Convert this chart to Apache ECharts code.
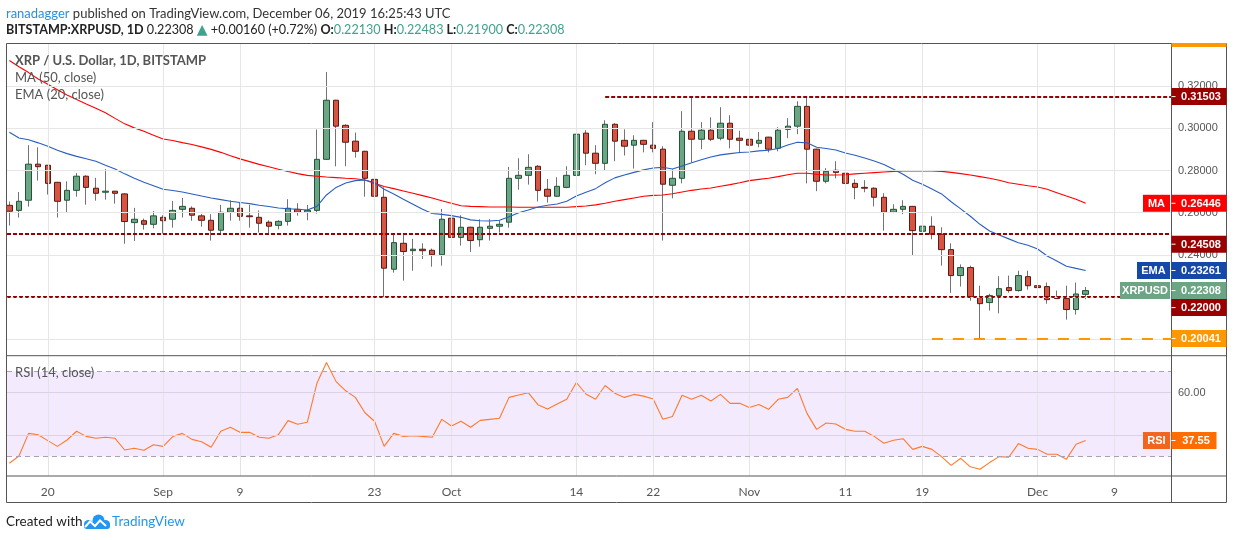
<!DOCTYPE html>
<html><head><meta charset="utf-8">
<script src="https://cdn.jsdelivr.net/npm/echarts@6/dist/echarts.min.js"></script>
<style>html,body{margin:0;padding:0;background:#fff;}#c{width:1234px;height:540px;}</style>
</head><body><div id="c"></div>
<script>
// Daily XRP/USD candles from Aug 16 2019 (index 0) to Dec 6 2019 (index 112)
const opens = [0.2635,0.2611,0.2659,0.2830,0.2825,0.2744,0.2659,0.2706,0.2773,0.2716,
0.2697,0.2702,0.2689,0.2553,0.2562,0.2545,0.2578,0.2569,0.2616,0.2621,
0.2585,0.2564,0.2517,0.2602,0.2621,0.2585,0.2578,0.2555,0.2540,0.2559,
0.2616,0.2602,0.2611,0.2853,0.3133,0.3014,0.2939,0.2891,0.2758,0.2673,
0.2332,0.2455,0.2420,0.2427,0.2422,0.2401,0.2574,0.2483,0.2531,0.2472,
0.2526,0.2536,0.2555,0.2763,0.2777,0.2820,0.2711,0.2678,0.2720,0.2777,
0.2977,0.2882,0.2834,0.3019,0.2943,0.2920,0.2943,0.2920,0.2901,0.2730,
0.2763,0.2986,0.2948,0.2991,0.2953,0.3024,0.2953,0.2948,0.2929,0.2958,
0.2905,0.2995,0.3010,0.3104,0.2901,0.2749,0.2801,0.2787,0.2739,0.2720,
0.2716,0.2673,0.2602,0.2616,0.2630,0.2512,0.2536,0.2498,0.2425,0.2302,
0.2340,0.2198,0.2174,0.2207,0.2245,0.2231,0.2297,0.2254,0.2250,0.2198,
0.2193,0.2141,0.2213];
const highs = [0.2653,0.2698,0.2920,0.2910,0.2826,0.2746,0.2749,0.2788,0.2777,0.2765,
0.2807,0.2703,0.2692,0.2623,0.2572,0.2608,0.2588,0.2656,0.2670,0.2630,
0.2594,0.2593,0.2637,0.2659,0.2648,0.2637,0.2610,0.2564,0.2564,0.2664,
0.2645,0.2637,0.2994,0.3267,0.3135,0.3019,0.2980,0.2893,0.2866,0.2720,
0.2501,0.2501,0.2476,0.2455,0.2430,0.2618,0.2611,0.2588,0.2534,0.2569,
0.2569,0.2564,0.2817,0.2858,0.2877,0.2825,0.2760,0.2768,0.2820,0.2984,
0.2991,0.2920,0.3038,0.3024,0.2995,0.2967,0.2945,0.3029,0.2915,0.2806,
0.3081,0.3149,0.3029,0.3052,0.3100,0.3062,0.2988,0.2967,0.2983,0.2960,
0.3005,0.3048,0.3128,0.3150,0.2903,0.2811,0.2844,0.2806,0.2758,0.2754,
0.2720,0.2692,0.2640,0.2659,0.2632,0.2559,0.2583,0.2531,0.2455,0.2355,
0.2349,0.2254,0.2216,0.2299,0.2302,0.2325,0.2325,0.2264,0.2269,0.2231,
0.2254,0.2269,0.22483];
const lows = [0.2539,0.2577,0.2629,0.2752,0.2686,0.2577,0.2600,0.2676,0.2638,0.2657,
0.2662,0.2643,0.2453,0.2466,0.2520,0.2526,0.2501,0.2529,0.2577,0.2562,
0.2534,0.2468,0.2502,0.2562,0.2562,0.2529,0.2506,0.2501,0.2521,0.2539,
0.2586,0.2564,0.2596,0.2850,0.2820,0.2820,0.2861,0.2676,0.2659,0.2199,
0.2316,0.2278,0.2325,0.2381,0.2344,0.2349,0.2446,0.2444,0.2414,0.2439,
0.2468,0.2506,0.2529,0.2709,0.2733,0.2653,0.2648,0.2676,0.2716,0.2768,
0.2825,0.2782,0.2799,0.2844,0.2871,0.2809,0.2886,0.2886,0.2468,0.2668,
0.2739,0.2839,0.2901,0.2939,0.2943,0.2905,0.2882,0.2848,0.2910,0.2886,
0.2891,0.2953,0.2972,0.2739,0.2702,0.2739,0.2763,0.2687,0.2664,0.2697,
0.2630,0.2515,0.2598,0.2593,0.2397,0.2420,0.2474,0.2349,0.2220,0.2250,
0.2183,0.20041,0.2136,0.2123,0.2221,0.2226,0.2235,0.2183,0.2169,0.2191,
0.2093,0.2117,0.2190];
const closes = [0.2607,0.2654,0.2830,0.2818,0.2739,0.2654,0.2706,0.2773,0.2720,0.2692,
0.2702,0.2692,0.2558,0.2569,0.2545,0.2585,0.2562,0.2611,0.2630,0.2588,
0.2564,0.2517,0.2602,0.2621,0.2583,0.2581,0.2550,0.2536,0.2559,0.2621,
0.2602,0.2611,0.2853,0.3133,0.3010,0.2934,0.2891,0.2763,0.2678,0.2337,
0.2458,0.2416,0.2427,0.2420,0.2401,0.2569,0.2483,0.2531,0.2468,0.2531,
0.2536,0.2545,0.2763,0.2777,0.2815,0.2706,0.2678,0.2725,0.2777,0.2972,
0.2882,0.2834,0.3019,0.2939,0.2915,0.2943,0.2924,0.2905,0.2735,0.2763,
0.2986,0.2948,0.2991,0.2948,0.3024,0.2948,0.2943,0.2920,0.2943,0.2901,
0.2991,0.3010,0.3104,0.2901,0.2749,0.2796,0.2791,0.2739,0.2720,0.2716,
0.2673,0.2602,0.2616,0.2630,0.2515,0.2536,0.2498,0.2425,0.2302,0.2340,
0.2202,0.2169,0.2207,0.2240,0.2231,0.2302,0.2254,0.2245,0.2188,0.2193,
0.2141,0.22148,0.22308];
const ma50 = [0.3321,0.3292,0.3264,0.3234,0.3209,0.3183,0.3158,0.3136,0.3115,0.3095,
0.3074,0.3047,0.3021,0.3002,0.2986,0.2967,0.2949,0.2942,0.2932,0.2923,
0.2912,0.2900,0.2886,0.2870,0.2855,0.2842,0.2829,0.2818,0.2806,0.2795,
0.2785,0.2777,0.2773,0.2769,0.2766,0.2763,0.2761,0.2755,0.2739,0.2724,
0.2714,0.2703,0.2692,0.2681,0.2670,0.2657,0.2645,0.2633,0.2630,0.2629,
0.2627,0.2627,0.2627,0.2626,0.2626,0.2626,0.2626,0.2626,0.2626,0.2629,
0.2632,0.2637,0.2645,0.2654,0.2662,0.2670,0.2678,0.2682,0.2684,0.2690,
0.2698,0.2706,0.2712,0.2717,0.2725,0.2733,0.2742,0.2752,0.2758,0.2763,
0.2771,0.2780,0.2787,0.2787,0.2782,0.2779,0.2779,0.2780,0.2784,0.2787,
0.2790,0.2793,0.2796,0.2798,0.2798,0.2798,0.2798,0.2796,0.2791,0.2785,
0.2779,0.2771,0.2763,0.2754,0.2742,0.2735,0.2728,0.2722,0.2711,0.2695,
0.2679,0.2664,0.26446];
const ema20 = [0.2981,0.2954,0.2946,0.2931,0.2915,0.2896,0.2880,0.2867,0.2856,0.2844,
0.2825,0.2807,0.2784,0.2763,0.2744,0.2728,0.2711,0.2705,0.2698,0.2689,
0.2679,0.2670,0.2662,0.2654,0.2648,0.2643,0.2635,0.2629,0.2622,0.2619,
0.2616,0.2613,0.2630,0.2684,0.2720,0.2741,0.2752,0.2755,0.2742,0.2711,
0.2689,0.2664,0.2640,0.2616,0.2596,0.2592,0.2586,0.2578,0.2566,0.2562,
0.2561,0.2564,0.2581,0.2600,0.2613,0.2627,0.2635,0.2641,0.2654,0.2679,
0.2697,0.2714,0.2742,0.2765,0.2779,0.2791,0.2803,0.2812,0.2815,0.2807,
0.2821,0.2837,0.2851,0.2864,0.2874,0.2880,0.2885,0.2888,0.2893,0.2896,
0.2904,0.2921,0.2934,0.2931,0.2910,0.2904,0.2897,0.2883,0.2872,0.2859,
0.2845,0.2828,0.2806,0.2782,0.2754,0.2735,0.2712,0.2689,0.2652,0.2618,
0.2583,0.2545,0.2513,0.2494,0.2476,0.2458,0.2446,0.2428,0.2395,0.2371,
0.2346,0.2336,0.23261];
const rsi14 = [26.9,30.3,40.9,40.3,37.5,34.8,37.8,41.9,39.5,38.6,
39.1,38.6,33.1,33.9,33.0,35.6,34.8,39.4,40.9,38.1,
37.0,34.4,41.9,43.8,41.4,41.4,39.1,38.6,40.3,46.9,
45.2,46.1,64.4,74.2,65.2,60.9,57.8,50.6,46.6,34.8,
40.9,39.5,39.8,39.5,39.1,47.5,44.4,46.6,43.8,47.0,
47.5,48.0,57.8,58.9,60.0,54.4,52.3,54.7,56.9,64.8,
59.4,56.9,63.4,59.7,57.8,59.2,58.4,57.0,47.5,48.8,
58.8,56.9,58.8,56.1,59.2,55.0,55.0,53.1,54.5,52.2,
56.9,57.8,62.0,50.3,42.8,45.8,45.3,42.8,41.9,41.9,
39.5,36.3,37.7,38.4,33.4,34.8,33.4,30.0,25.9,29.2,
25.2,24.1,27.2,30.0,29.7,36.1,33.9,33.4,31.1,31.1,
28.8,35.8,37.55];
// time-axis ticks (day index from Aug 16) and their labels
const tickDays = [4,16,24,38,46,59,67,77,87,95,107,115];
const tickLabels = ['20','Sep','9','23','Oct','14','22','Nov','11','19','Dec','9'];
const priceTicks = [0.20,0.22,0.24,0.26,0.28,0.30,0.32];
const rsiTicks = [60];
// drawn horizontal levels
const resistanceLevel = 0.31503, resistanceStart = 62;
const upperLevel = 0.24508;
const supportLevel = 0.22000;
const swingLow = 0.20041, swingLowStart = 96;

const chart = echarts.init(document.getElementById('c'));
const last = opens.length - 1;
const idx = opens.map((_, i) => i);
const xMin = -0.2456, xMax = 120.88;
const FONT = 'Lato, "Liberation Sans", sans-serif';
const NUM = '"Liberation Sans", Arial, sans-serif';
const DARKRED = '#990000';

const vMarks = (color) => ({symbol:'none', silent:true, animation:false, label:{show:false},
  lineStyle:{color:color, width:1, type:'solid'}, data: tickDays.map(d => ({xAxis:d}))});

chart.setOption({
  animation:false,
  grid:[{left:7, top:43.3, width:1164, height:312.4},{left:7, top:355.7, width:1164, height:120.3}],
  xAxis:[
    {type:'value', gridIndex:0, min:xMin, max:xMax, axisLine:{show:false}, axisTick:{show:false}, axisLabel:{show:false}, splitLine:{show:false}},
    {type:'value', gridIndex:1, min:xMin, max:xMax, axisLine:{show:false}, axisTick:{show:false}, splitLine:{show:false},
     axisLabel:{customValues:tickDays, color:'#555', fontSize:12, fontFamily:FONT, margin:10,
       formatter:(v)=>{const k=tickDays.indexOf(Math.round(v)); return k>=0?tickLabels[k]:'';}}}
  ],
  yAxis:[
    {type:'value', gridIndex:0, position:'right', min:0.19223, max:0.34028, axisLine:{show:false}, splitLine:{show:false},
     axisTick:{show:true, customValues:priceTicks, length:4, lineStyle:{color:'#555'}},
     axisLabel:{customValues:priceTicks, color:'#555', fontSize:11, fontFamily:NUM, margin:7, formatter:(v)=>v.toFixed(5)}},
    {type:'value', gridIndex:1, position:'right', min:20.9, max:77.37, axisLine:{show:false}, splitLine:{show:false},
     axisTick:{show:true, customValues:rsiTicks, length:4, lineStyle:{color:'#555'}},
     axisLabel:{customValues:rsiTicks, color:'#555', fontSize:11, fontFamily:NUM, margin:7, formatter:(v)=>v.toFixed(2)}}
  ],
  series:[
    {name:'pgrid', type:'line', xAxisIndex:0, yAxisIndex:0, data:[], z:0, silent:true,
     markLine:{symbol:'none', silent:true, animation:false, label:{show:false},
       lineStyle:{color:'#e6e6e6', width:1, type:'solid'},
       data:[...tickDays.map(d=>({xAxis:d})), ...priceTicks.map(v=>({yAxis:v}))]}},
    {name:'wicks', type:'candlestick', xAxisIndex:0, yAxisIndex:0, z:2, barWidth:1, encode:{x:0, y:[1,2,3,4]},
     data: idx.map(i=>[i, opens[i], closes[i], lows[i], highs[i]]),
     itemStyle:{color:'#737375', color0:'#737375', borderColor:'#737375', borderColor0:'#737375', borderWidth:1}},
    {name:'bodies', type:'candlestick', xAxisIndex:0, yAxisIndex:0, z:3, barWidth:6, encode:{x:0, y:[1,2,3,4]},
     data: idx.map(i=>[i, opens[i], closes[i], Math.min(opens[i],closes[i]), Math.max(opens[i],closes[i])]),
     itemStyle:{color:'#6ba583', color0:'#d75442', borderColor:'#225437', borderColor0:'#5b1a13', borderWidth:1}},
    {name:'MA', type:'line', xAxisIndex:0, yAxisIndex:0, z:4, symbol:'none', showSymbol:false,
     data: idx.map(i=>[i, ma50[i]]), lineStyle:{color:'#ff0000', width:1.1}},
    {name:'EMA', type:'line', xAxisIndex:0, yAxisIndex:0, z:4, symbol:'none', showSymbol:false,
     data: idx.map(i=>[i, ema20[i]]), lineStyle:{color:'#2a5fc0', width:1.1}},
    {name:'levels', type:'line', xAxisIndex:0, yAxisIndex:0, data:[], z:5, silent:true,
     markLine:{symbol:'none', silent:true, animation:false, label:{show:false}, data:[
       [{coord:[resistanceStart, resistanceLevel], lineStyle:{color:DARKRED, width:2, type:[4,2]}}, {coord:[xMax, resistanceLevel]}],
       {yAxis:upperLevel, lineStyle:{color:DARKRED, width:2, type:[4,2]}},
       {yAxis:supportLevel, lineStyle:{color:DARKRED, width:2, type:[4,2]}},
       [{coord:[swingLowStart, swingLow], lineStyle:{color:'#ff9800', width:2, type:[11,10]}}, {coord:[xMax, swingLow]}],
       {yAxis:closes[last], lineStyle:{color:'#5f9c7b', width:1, type:[1,2]}}
     ]}},
    {name:'rgrid', type:'line', xAxisIndex:1, yAxisIndex:1, data:[], z:0, silent:true, markLine:vMarks('#e4e4e4')},
    {name:'rband', type:'line', xAxisIndex:1, yAxisIndex:1, data:[], z:1, silent:true,
     markArea:{silent:true, itemStyle:{color:'rgba(160,80,240,0.12)'}, data:[[{yAxis:30},{yAxis:70}]]}},
    {name:'rlevels', type:'line', xAxisIndex:1, yAxisIndex:1, data:[], z:2, silent:true,
     markLine:{symbol:'none', silent:true, animation:false, label:{show:false}, data:[
       {yAxis:60, lineStyle:{color:'#dcd1e8', width:1, type:'solid'}},
       {yAxis:40, lineStyle:{color:'#dcd1e8', width:1, type:'solid'}},
       {yAxis:70, lineStyle:{color:'#aaa2b4', width:1, type:[5,4]}},
       {yAxis:30, lineStyle:{color:'#aaa2b4', width:1, type:[5,4]}}
     ]}},
    {name:'RSI', type:'line', xAxisIndex:1, yAxisIndex:1, z:3, symbol:'none', showSymbol:false,
     data: idx.map(i=>[i, rsi14[i]]), lineStyle:{color:'#ff7a2e', width:1.1}}
  ]
});

// ---------- overlay: frame, texts and price labels ----------
const py = v => chart.convertToPixel({yAxisIndex:0}, v);
const ry = v => chart.convertToPixel({yAxisIndex:1}, v);
const G = [];
function add(o){ o.id = 'g'+G.length; o.silent = true; if(o.z==null) o.z = 100; G.push(o); }
function rect(x,y,w,h,fill,z,r){ add({type:'rect', shape:{x:x,y:y,width:w,height:h,r:r||0}, style:{fill:fill}, z:z}); }
function line(x1,y1,x2,y2,stroke,w){ add({type:'line', shape:{x1:x1,y1:y1,x2:x2,y2:y2}, style:{stroke:stroke, lineWidth:w||1}}); }
function text(x,y,t,opt){ add({type:'text', x:x, y:y, style:Object.assign({text:t, fill:'#555', font:'13px '+FONT, align:'left', verticalAlign:'middle'}, opt||{})}); }
function box(x,yc,w,bg,t,withTick){
  rect(x, yc-8.5, w, 17, bg, 110);
  add({type:'text', x:x+w/2+(withTick?2:0), y:yc+0.5, z:111, style:{text:t, fill:'#fff', font:'bold 11px '+NUM, align:'center', verticalAlign:'middle'}});
  if(withTick) add({type:'line', z:111, shape:{x1:x, y1:yc, x2:x+4, y2:yc}, style:{stroke:'#fff', lineWidth:1}});
}

// cover to the left of the frame
rect(0, 43, 6.5, 460, '#fff', 90);
// frame
add({type:'rect', shape:{x:6.5, y:43.5, width:1220, height:459}, style:{fill:'none', stroke:'#555', lineWidth:1}});
line(1171.5, 43.5, 1171.5, 502.5, '#555');
line(6.5, 355.7, 1226.5, 355.7, '#555');
line(6.5, 476, 1226.5, 476, '#555');
rect(1171.5, 43, 55, 4, '#ff9800', 101);

// header
const chg = closes[last]-closes[last-1];
const pct = chg/closes[last-1]*100;
const up = '#3fa28e';
add({type:'text', x:6, y:13.5, style:{text:'{a|ranadagger}{b| published on TradingView.com, December 06, 2019 16:25:43 UTC}',
  verticalAlign:'middle', rich:{a:{fill:'#2a8fe0', fontSize:13, fontFamily:FONT}, b:{fill:'#333', fontSize:13, fontFamily:FONT}}}});
add({type:'text', x:6, y:30, style:{
  text:'{b|BITSTAMP:XRPUSD, 1D}{n| '+closes[last].toFixed(5)+' }{t|▲}{n| '+(chg>=0?'+':'')+chg.toFixed(5)+' ('+(chg>=0?'+':'')+pct.toFixed(2)+'%) }'+
       '{b|O:}{u|'+opens[last].toFixed(5)+'}{b| H:}{u|'+highs[last].toFixed(5)+'}{b| L:}{u|'+lows[last].toFixed(5)+'}{b| C:}{u|'+closes[last].toFixed(5)+'}',
  verticalAlign:'middle',
  rich:{b:{fill:'#222', fontSize:12.6, fontWeight:'bold', fontFamily:FONT}, n:{fill:'#222', fontSize:12.6, fontFamily:FONT},
        u:{fill:up, fontSize:12.6, fontFamily:FONT}, t:{fill:up, fontSize:14, fontFamily:'"DejaVu Sans", sans-serif'}}}});

// legends
text(15, 61, 'XRP / U.S. Dollar, 1D, BITSTAMP', {font:'bold 13px '+FONT, fill:'#555'});
text(15, 78, 'MA (50, close)', {fill:'#555'});
text(15, 94.5, 'EMA (20, close)', {fill:'#555'});
text(15, 373, 'RSI (14, close)', {fill:'#555'});

// price labels
const AX = 1171.5, AW = 55;
box(AX, py(resistanceLevel), AW, DARKRED, resistanceLevel.toFixed(5), true);
box(1143, py(ma50[last]), 27, '#ff0000', 'MA', false);
box(AX, py(ma50[last]), AW, '#ff0000', ma50[last].toFixed(5), true);
box(AX, py(upperLevel), AW, DARKRED, upperLevel.toFixed(5), true);
box(1137, py(ema20[last]), 33, '#1648aa', 'EMA', false);
box(AX, py(ema20[last]), AW, '#1648aa', ema20[last].toFixed(5), true);
const yLast = py(closes[last]);
box(1120, yLast, 50, '#6ba583', 'XRPUSD', false);
box(AX, yLast, AW, '#6ba583', closes[last].toFixed(5), true);
box(AX, Math.max(py(supportLevel), yLast+17), AW, DARKRED, supportLevel.toFixed(5), true);
box(AX, py(swingLow), AW, '#ff9800', swingLow.toFixed(5), true);
box(1143, ry(rsi14[last]), 27, '#f2651f', 'RSI', false);
box(AX, ry(rsi14[last]), 45, '#ff6d00', rsi14[last].toFixed(2), true);

// footer with logo
text(6, 522, 'Created with', {fill:'#222', font:'13.5px '+FONT});
add({type:'circle', shape:{cx:88.5, cy:524.5, r:4.5}, style:{fill:'#2196f3'}});
add({type:'circle', shape:{cx:98.5, cy:520.5, r:6}, style:{fill:'#2196f3'}});
add({type:'circle', shape:{cx:105.5, cy:524.5, r:4.5}, style:{fill:'#2196f3'}});
rect(84, 522, 26, 7, '#2196f3', 100, 3);
add({type:'polyline', z:101, shape:{points:[[85,527],[90,521.5],[95,526],[100,520.5],[106,526]]}, style:{stroke:'#fff', lineWidth:2, fill:'none'}});
text(112, 522, 'TradingView', {fill:'#2196f3', font:'13.5px '+FONT});

chart.setOption({graphic:{elements:G}});
</script>
</body></html>
